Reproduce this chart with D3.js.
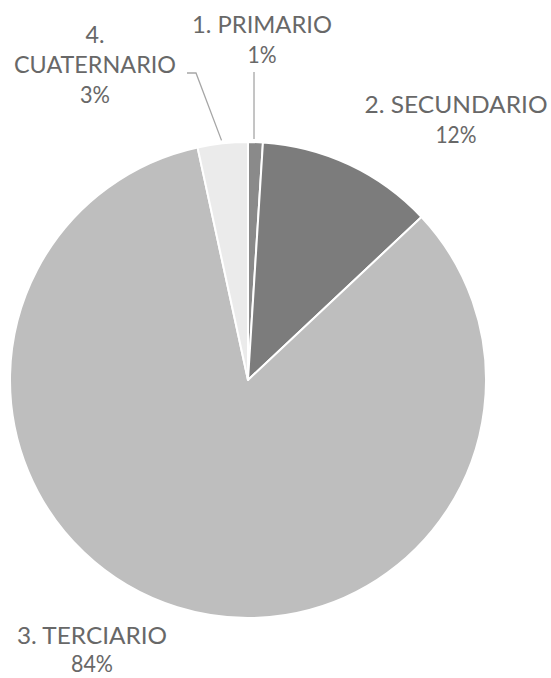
<!DOCTYPE html>
<html>
<head>
<meta charset="utf-8">
<script src="https://cdn.jsdelivr.net/npm/d3@7"></script>
<style>
  html, body { margin: 0; padding: 0; background: #ffffff; }
  svg { display: block; }
</style>
</head>
<body>
<svg id="chart" width="551" height="678"></svg>
<script>
// ---- data ----
const categories = ["1. PRIMARIO", "2. SECUNDARIO", "3. TERCIARIO", "4. CUATERNARIO"];
const values = [1.0, 12.0, 83.6, 3.4];
const percentLabels = ["1%", "12%", "84%", "3%"];

// ---- styles / layout ----
const colors = ["#8a8a8a", "#7c7c7c", "#bebebe", "#ebebeb"];
const cx = 248, cy = 380, R = 238;

const svg = d3.select("#chart");
const g = svg.append("g").attr("transform", `translate(${cx},${cy})`);

const pie = d3.pie().sort(null).value(d => d.v).startAngle(0).endAngle(2 * Math.PI);
const rows = categories.map((c, i) => ({ c, v: values[i], p: percentLabels[i], i }));
const arcs = pie(rows);
const arc = d3.arc().innerRadius(0).outerRadius(R);

g.selectAll("path.slice").data(arcs).join("path")
  .attr("class", "slice")
  .attr("d", arc)
  .attr("fill", d => colors[d.data.i])
  .attr("stroke", "#ffffff")
  .attr("stroke-width", 2)
  .attr("stroke-linejoin", "round");

// label layout (text lines, page coordinates), per category
const labelLayout = [
  { lines: ["1. PRIMARIO"], x: 262, y: 33, widths: [140], pctWidth: 29, lh: 30 },
  { lines: ["2. SECUNDARIO"], x: 456, y: 113, widths: [183], pctWidth: 41, lh: 30 },
  { lines: ["3. TERCIARIO"], x: 92, y: 644, widths: [150], pctWidth: 42, lh: 28 },
  { lines: ["4.", "CUATERNARIO"], x: 95, y: 43, widths: [19, 162], pctWidth: 30, lh: 30 }
];
const textColor = "#686868";
const fontFam = "Lato, 'Open Sans', 'DejaVu Sans', sans-serif";
const fontSize = 23;

labelLayout.forEach((L, i) => {
  const t = svg.append("text")
    .attr("font-family", fontFam)
    .attr("font-size", fontSize)
    .attr("fill", textColor)
    .attr("text-anchor", "middle");
  const all = L.lines.concat([percentLabels[i]]);
  const ws = L.widths.concat([L.pctWidth]);
  all.forEach((ln, k) => {
    t.append("tspan")
      .attr("x", L.x)
      .attr("y", L.y + k * L.lh)
      .attr("textLength", ws[k])
      .attr("lengthAdjust", "spacingAndGlyphs")
      .text(ln);
  });
});

// leader lines from slice mid-angle at the rim
const rimArc = d3.arc().innerRadius(R + 1).outerRadius(R + 1);
function rimPoint(d) {
  const p = rimArc.centroid(d);
  return [cx + p[0], cy + p[1]];
}
// primary: vertical leader up to below its label
const pPrim = rimPoint(arcs[0]);
svg.append("path")
  .attr("d", d3.line()([[pPrim[0] - 1.5, pPrim[1] - 2], [pPrim[0] - 1.5, 72]]))
  .attr("stroke", "#a6a6a6").attr("stroke-width", 1.3).attr("fill", "none");
// quaternary: diagonal then short horizontal
const pQ = rimPoint(arcs[3]);
svg.append("path")
  .attr("d", d3.line()([[pQ[0] - 1, pQ[1] - 2], [196, 73], [187, 73]]))
  .attr("stroke", "#a6a6a6").attr("stroke-width", 1.3).attr("fill", "none");
</script>
</body>
</html>
